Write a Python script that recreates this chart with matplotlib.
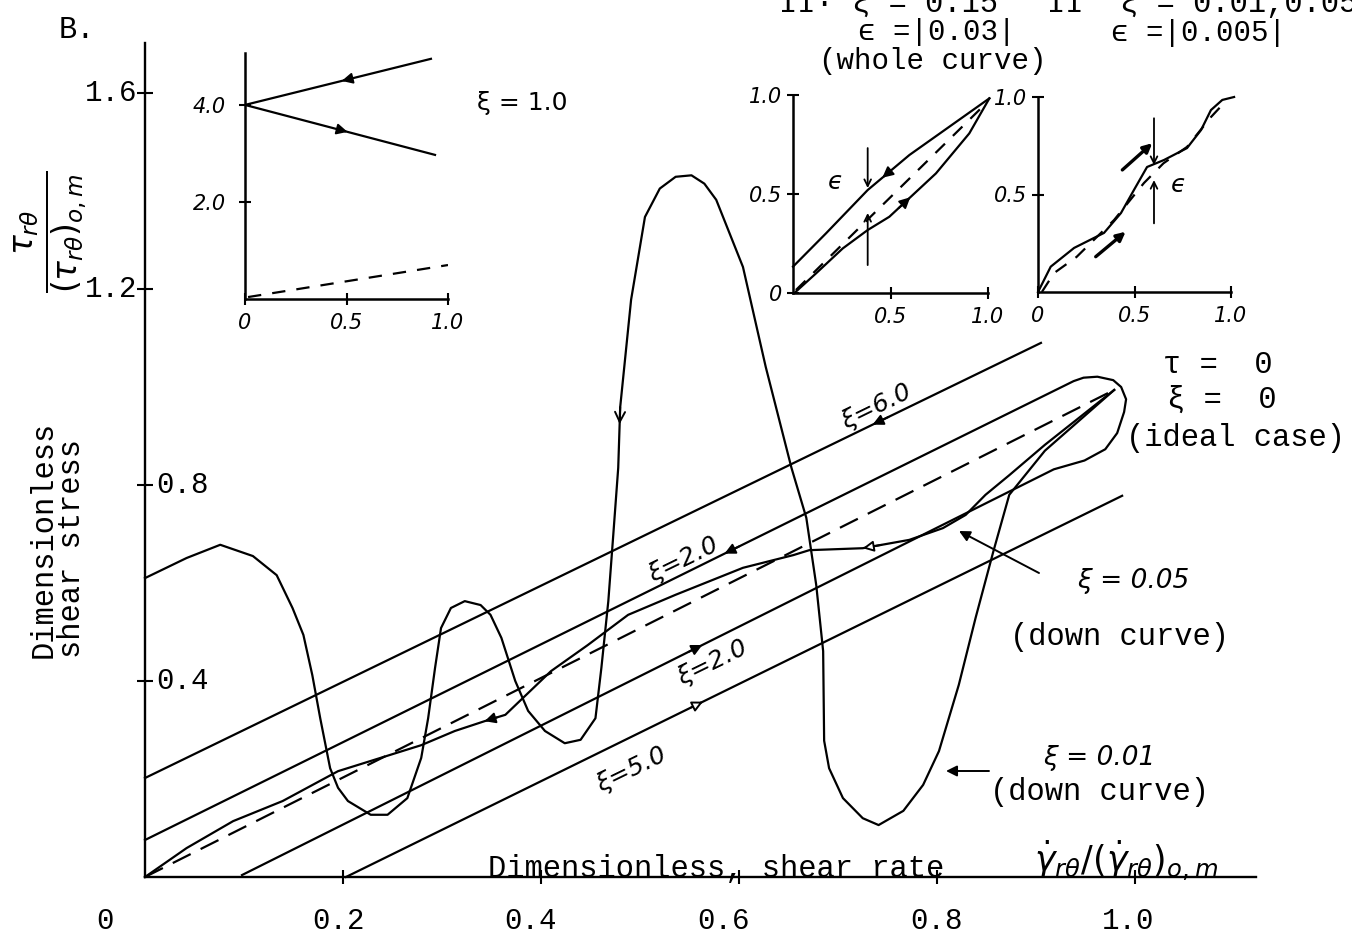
import numpy as np
import matplotlib.pyplot as plt

# pixel frame of the drawing
W, H = 1352, 935
X0, Y0 = 145, 877          # origin of the main axes (px)
SX, SY = 990.0, 490.0      # px per unit on the main axes

MONO = ['Liberation Mono', 'DejaVu Sans Mono']
HAND = ['DejaVu Sans']

# ---- main plot: dimensionless shear rate vs dimensionless shear stress ----
ideal_x = [0.0, 0.979]
ideal_y = [0.0, 0.994]

xi6_x = [0.0, 0.905]
xi6_y = [0.202, 1.090]

xi5_x = [0.203, 0.987]
xi5_y = [0.0, 0.778]

# xi = 2.0: up along the lower line, loop near (1,1), back down the upper line
xi2_x = [0.098, 0.918, 0.949, 0.970, 0.982, 0.989, 0.991, 0.986, 0.978,
         0.962, 0.948, 0.938, 0.0]
xi2_y = [0.004, 0.832, 0.850, 0.873, 0.906, 0.949, 0.975, 1.000, 1.014,
         1.021, 1.019, 1.012, 0.0755]

# xi = 0.05 down curve
xi005_x = [0.0, 0.042, 0.089, 0.139, 0.195, 0.279, 0.313, 0.343, 0.364,
           0.410, 0.447, 0.488, 0.536, 0.604, 0.655, 0.671, 0.725, 0.772,
           0.806, 0.829, 0.849, 0.873, 0.909, 0.979]
xi005_y = [0.0, 0.059, 0.114, 0.155, 0.216, 0.269, 0.298, 0.318, 0.331,
           0.420, 0.473, 0.535, 0.576, 0.631, 0.657, 0.667, 0.671, 0.688,
           0.712, 0.739, 0.780, 0.820, 0.882, 0.994]

# xi = 0.01 down curve
xi001_x = [0.0, 0.042, 0.076, 0.109, 0.133, 0.149, 0.160, 0.169, 0.177,
           0.187, 0.195, 0.205, 0.228, 0.245, 0.265, 0.279, 0.286, 0.293,
           0.299, 0.309, 0.323, 0.339, 0.349, 0.360, 0.374, 0.387, 0.404,
           0.424, 0.440, 0.455, 0.461, 0.468, 0.473, 0.478, 0.480, 0.491,
           0.505, 0.520, 0.536, 0.552, 0.565, 0.577, 0.604, 0.627, 0.653,
           0.668, 0.678, 0.685, 0.686, 0.691, 0.705, 0.725, 0.741, 0.766,
           0.786, 0.802, 0.822, 0.839, 0.857, 0.873, 0.889, 0.909, 0.979]
xi001_y = [0.610, 0.651, 0.678, 0.655, 0.616, 0.549, 0.494, 0.412, 0.324,
           0.222, 0.182, 0.155, 0.127, 0.127, 0.161, 0.243, 0.324, 0.427,
           0.508, 0.549, 0.563, 0.555, 0.535, 0.488, 0.400, 0.339, 0.298,
           0.273, 0.280, 0.324, 0.427, 0.563, 0.698, 0.835, 0.959, 1.178,
           1.347, 1.405, 1.429, 1.432, 1.415, 1.382, 1.245, 1.041, 0.835,
           0.733, 0.596, 0.461, 0.278, 0.222, 0.161, 0.120, 0.106, 0.135,
           0.188, 0.257, 0.392, 0.529, 0.665, 0.780, 0.820, 0.870, 0.994]

xtick_vals = [0.2, 0.4, 0.6, 0.8, 1.0]
xlab_text = ['0', '0.2', '0.4', '0.6', '0.8', '1.0']
xlab_pos = [-0.040, 0.195, 0.389, 0.584, 0.800, 0.993]
ytick_vals = [0.4, 0.8, 1.2, 1.6]
ylab_text = ['0.4', '0.8', '1.2', '1.6']

# ---- inset I: xi = 1.0 ----
in1_up_x, in1_up_y = [0.0, 0.916], [4.0, 4.95]
in1_dn_x, in1_dn_y = [0.0, 0.936], [4.0, 2.97]
in1_id_x, in1_id_y = [0.015, 1.0], [0.04, 0.70]

# ---- inset II: xi = 0.15 (whole curve) ----
in2_up_x = [0.0, 0.169, 0.383, 0.597, 0.802, 1.007]
in2_up_y = [0.133, 0.301, 0.520, 0.697, 0.840, 0.983]
in2_lo_x = [0.015, 0.118, 0.255, 0.383, 0.494, 0.733, 0.904, 1.007]
in2_lo_y = [0.007, 0.099, 0.225, 0.318, 0.385, 0.604, 0.806, 0.983]
in2_id_x, in2_id_y = [0.015, 0.99], [0.015, 0.958]

# ---- inset III: xi = 0.01, 0.05 ----
in3_x = [0.0, 0.066, 0.187, 0.342, 0.430, 0.497, 0.565, 0.653, 0.772,
         0.845, 0.896, 0.955, 1.016]
in3_y = [0.0, 0.130, 0.226, 0.303, 0.405, 0.523, 0.641, 0.677, 0.738,
         0.831, 0.933, 0.985, 1.0]
in3_id_x = [0.02, 0.083, 0.20, 0.394, 0.549, 0.65, 0.772, 0.896, 0.979]
in3_id_y = [0.0, 0.097, 0.18, 0.369, 0.559, 0.66, 0.744, 0.897, 0.985]


def P(px, py):
    """image pixel -> main data coordinates"""
    return (px - X0) / SX, (Y0 - py) / SY


def seg_pt(xs, ys, i, t):
    return (xs[i] + t * (xs[i + 1] - xs[i]), ys[i] + t * (ys[i + 1] - ys[i]))


def head(a, p0, p1, style='-|>', ms=16, lw=1.4, fc='k'):
    a.annotate('', xy=p1, xytext=p0,
               arrowprops=dict(arrowstyle=style, color='k', fc=fc, lw=lw,
                               mutation_scale=ms, shrinkA=0, shrinkB=0))


def seg_head(a, xs, ys, i, t0, t1, **kw):
    head(a, seg_pt(xs, ys, i, t0), seg_pt(xs, ys, i, t1), **kw)


fig = plt.figure(figsize=(W / 100, H / 100), dpi=100)
ax = fig.add_axes([0, 0, 1, 1])
ax.set_xlim(-X0 / SX, (W - X0) / SX)
ax.set_ylim(-(H - Y0) / SY, Y0 / SY)
ax.axis('off')

LW = 1.6
# axes drawn by hand
ax.plot([0, 0], [0, 1.702], color='k', lw=1.7)
ax.plot([0, 1.122], [0, 0], color='k', lw=1.7)
ax.plot(np.zeros(len(ytick_vals)), ytick_vals, ls='none', marker='_',
        ms=12, mew=1.5, color='k')
ax.plot(xtick_vals, np.zeros(len(xtick_vals)), ls='none', marker='|',
        ms=10, mew=1.5, color='k')

for s, xp in zip(xlab_text, xlab_pos):
    ax.text(xp, P(0, 921)[1], s, ha='center', va='center', fontsize=21,
            family=MONO)
for s, v in zip(ylab_text, ytick_vals):
    if v > 1.0:
        ax.text(P(137, 0)[0], v, s, ha='right', va='center', fontsize=21,
                family=MONO)
    else:
        ax.text(P(156, 0)[0], v, s, ha='left', va='center', fontsize=21,
                family=MONO)

# curves
ax.plot(ideal_x, ideal_y, color='k', lw=LW, ls=(0, (9, 5)))
ax.plot(xi6_x, xi6_y, color='k', lw=LW)
ax.plot(xi5_x, xi5_y, color='k', lw=LW)
ax.plot(xi2_x, xi2_y, color='k', lw=LW)
ax.plot(xi005_x, xi005_y, color='k', lw=LW)
ax.plot(xi001_x, xi001_y, color='k', lw=LW)

# direction arrows
seg_head(ax, xi6_x, xi6_y, 0, 0.83, 0.812)
nB = len(xi2_x) - 2
seg_head(ax, xi2_x, xi2_y, nB, 0.36, 0.376)
seg_head(ax, xi2_x, xi2_y, 0, 0.55, 0.567)
seg_head(ax, xi5_x, xi5_y, 0, 0.445, 0.46, fc='white')
seg_head(ax, xi005_x, xi005_y, 7, 0.6, 0.0)
seg_head(ax, xi005_x, xi005_y, 16, 0.4, 0.0, fc='white')
seg_head(ax, xi001_x, xi001_y, 33, 1.0, 0.72, style='->', ms=18)

# curve labels
ax.text(*P(876, 407), 'ξ=6.0', rotation=26, ha='center', va='center',
        fontsize=18, family=HAND, style='italic')
ax.text(*P(683, 560), 'ξ=2.0', rotation=26, ha='center', va='center',
        fontsize=18, family=HAND, style='italic')
ax.text(*P(712, 663), 'ξ=2.0', rotation=26, ha='center', va='center',
        fontsize=18, family=HAND, style='italic')
ax.text(*P(631, 770), 'ξ=5.0', rotation=26, ha='center', va='center',
        fontsize=18, family=HAND, style='italic')

ax.text(*P(1133, 581), 'ξ = 0.05', ha='center', va='center', fontsize=19,
        family=HAND, style='italic')
ax.text(*P(1120, 637), '(down curve)', ha='center', va='center',
        fontsize=22, family=MONO)
head(ax, P(1039, 573), P(959, 531))
ax.text(*P(1099, 758), 'ξ = 0.01', ha='center', va='center', fontsize=19,
        family=HAND, style='italic')
ax.text(*P(1100, 792), '(down curve)', ha='center', va='center',
        fontsize=22, family=MONO)
head(ax, P(989, 771), P(946, 771))

ax.text(*P(1218, 365), 'τ =  0', ha='center', va='center', fontsize=22,
        family=MONO)
ax.text(*P(1222, 400), 'ξ =  0', ha='center', va='center', fontsize=22,
        family=MONO)
ax.text(*P(1235, 438), '(ideal case)', ha='center', va='center',
        fontsize=22, family=MONO)

# axis titles
ax.text(*P(488, 877), 'Dimensionless, shear rate', ha='left',
        va='baseline', fontsize=22, family=MONO)
ax.text(*P(1034, 872), r'$\dot{\gamma}_{r\theta}/(\dot{\gamma}_{r\theta})_{o,m}$',
        ha='left', va='baseline', fontsize=25)
ax.text(*P(58, 658), 'Dimensionless\nshear stress', rotation=90,
        ha='center', va='bottom', multialignment='left', fontsize=22,
        family=MONO, linespacing=0.95)
ax.text(*P(52, 232), r'$\frac{\tau_{r\theta}}{(\tau_{r\theta})_{o,m}}$',
        rotation=90, ha='center', va='center', fontsize=34)
ax.text(*P(77, 30), 'B.', ha='center', va='center', fontsize=22,
        family=MONO)

# header text above the small insets (cut by the top edge of the sheet)
ax.text(*P(779, 12), 'II· ξ = 0.15', ha='left', va='baseline',
        fontsize=22, family=MONO)
ax.text(*P(1047, 12), 'II  ξ = 0.01,0.05)', ha='left', va='baseline',
        fontsize=22, family=MONO)
ax.text(*P(858, 40), 'ϵ =|0.03|', ha='left', va='baseline', fontsize=21,
        family=MONO)
ax.text(*P(819, 69), '(whole curve)', ha='left', va='baseline',
        fontsize=21, family=MONO)
ax.text(*P(1111, 41), 'ϵ =|0.005|', ha='left', va='baseline',
        fontsize=21, family=MONO)
ax.text(*P(522, 103), 'ξ = 1.0', ha='center', va='center', fontsize=18,
        family=HAND)


def inset(x0, x1, ytop, ybot, xmax, ymax):
    a = fig.add_axes([x0 / W, 1 - ybot / H, (x1 - x0) / W, (ybot - ytop) / H])
    a.set_xlim(0, xmax)
    a.set_ylim(0, ymax)
    a.patch.set_alpha(0)
    for s in ('top', 'right'):
        a.spines[s].set_visible(False)
    for s in ('left', 'bottom'):
        a.spines[s].set_linewidth(1.8)
    a.tick_params(direction='inout', length=8, width=1.5, labelsize=15)
    return a


lab = dict(fontstyle='italic', family=HAND)

# inset I
a1 = inset(245, 448, 53, 299, 1.0, 5.07)
a1.plot(in1_up_x, in1_up_y, color='k', lw=LW)
a1.plot(in1_dn_x, in1_dn_y, color='k', lw=LW)
a1.plot(in1_id_x, in1_id_y, color='k', lw=LW, ls=(0, (6, 5)))
seg_head(a1, in1_up_x, in1_up_y, 0, 0.56, 0.52)
seg_head(a1, in1_dn_x, in1_dn_y, 0, 0.50, 0.54)
a1.set_xticks([0, 0.5, 1.0], ['0', '0.5', '1.0'], **lab)
a1.set_yticks([2.0, 4.0], ['2.0', '4.0'], **lab)
a1.tick_params(axis='x', pad=6)
a1.tick_params(axis='y', pad=10)

# inset II
a2 = inset(793, 988, 95, 293, 1.0, 1.0)
a2.plot(in2_up_x, in2_up_y, color='k', lw=LW, clip_on=False)
a2.plot(in2_lo_x, in2_lo_y, color='k', lw=LW, clip_on=False)
a2.plot(in2_id_x, in2_id_y, color='k', lw=LW, ls=(0, (6, 5)))
seg_head(a2, in2_up_x, in2_up_y, 2, 0.55, 0.35)
seg_head(a2, in2_lo_x, in2_lo_y, 4, 0.2, 0.45)
head(a2, (0.383, 0.732), (0.383, 0.53), style='->', ms=12, lw=1.3)
head(a2, (0.383, 0.141), (0.383, 0.404), style='->', ms=12, lw=1.3)
a2.text(0.215, 0.56, 'ϵ', ha='center', va='center', fontsize=18, **lab)
a2.set_xticks([0.5, 1.0], ['0.5', '1.0'], **lab)
a2.set_yticks([0, 0.5, 1.0], ['0', '0.5', '1.0'], **lab)
a2.tick_params(axis='x', pad=6)
a2.tick_params(axis='y', pad=4)

# inset III
a3 = inset(1038, 1231, 97, 292, 1.0, 1.0)
a3.plot(in3_x, in3_y, color='k', lw=LW, clip_on=False)
a3.plot(in3_id_x, in3_id_y, color='k', lw=LW, ls=(0, (6, 5)))
head(a3, (0.437, 0.626), (0.592, 0.763), ms=13, lw=2.4)
head(a3, (0.299, 0.181), (0.454, 0.309), ms=13, lw=2.4)
head(a3, (0.601, 0.891), (0.601, 0.651), style='->', ms=12, lw=1.3)
head(a3, (0.601, 0.352), (0.601, 0.574), style='->', ms=12, lw=1.3)
a3.text(0.725, 0.55, 'ϵ', ha='center', va='center', fontsize=18, **lab)
a3.set_xticks([0, 0.5, 1.0], ['0', '0.5', '1.0'], **lab)
a3.set_yticks([0.5, 1.0], ['0.5', '1.0'], **lab)
a3.tick_params(axis='x', pad=6)
a3.tick_params(axis='y', pad=4)

fig.savefig('out.png', dpi=100)
